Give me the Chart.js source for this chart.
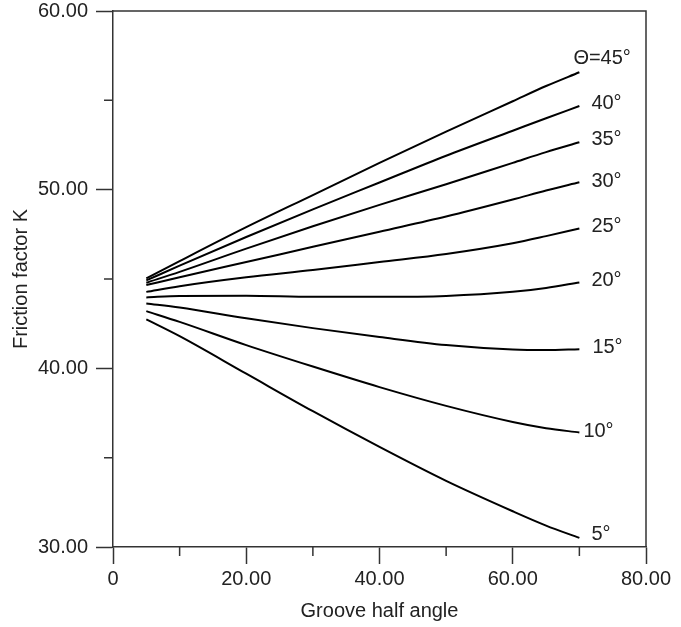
<!DOCTYPE html>
<html lang="en">
<head>
<meta charset="UTF-8">
<title>Friction factor K vs groove half angle</title>
<script src="https://cdn.jsdelivr.net/npm/chart.js"></script>
<style>
    body { margin: 0; background: #fff; }
    #wrap { position: relative; width: 681px; height: 627px; }
</style>
</head>
<body>
<div id="wrap"><canvas id="chart"></canvas></div>
<script>
// groove half angle (x) and friction factor K for each theta
const grooveAngles = [5, 10, 20, 30, 40, 50, 60, 65, 70];
const k45 = [45.03, 46.0, 47.9, 49.7, 51.5, 53.25, 54.95, 55.8, 56.57];
const k40 = [44.92, 45.75, 47.35, 48.9, 50.4, 51.9, 53.3, 54.0, 54.68];
const k35 = [44.79, 45.4, 46.7, 47.95, 49.15, 50.3, 51.5, 52.1, 52.65];
const k30 = [44.66, 45.1, 45.95, 46.8, 47.65, 48.5, 49.45, 49.95, 50.41];
const k25 = [44.28, 44.6, 45.1, 45.5, 45.95, 46.4, 47.0, 47.4, 47.83];
const k20 = [43.97, 44.05, 44.06, 44.0, 44.0, 44.05, 44.28, 44.5, 44.81];
const k15 = [43.63, 43.4, 42.8, 42.25, 41.75, 41.3, 41.05, 41.02, 41.07];
const k10 = [43.2, 42.6, 41.3, 40.1, 38.95, 37.9, 37.0, 36.65, 36.41];
const k5  = [42.74, 41.8, 39.7, 37.6, 35.6, 33.7, 32.0, 31.2, 30.51];
const seriesNames = ['\u0398=45\u00b0', '40\u00b0', '35\u00b0', '30\u00b0', '25\u00b0', '20\u00b0', '15\u00b0', '10\u00b0', '5\u00b0'];
const seriesValues = [k45, k40, k35, k30, k25, k20, k15, k10, k5];
const xMinorTicks = [10, 30, 50, 70];
const yMinorTicks = [35, 45, 55];

const FONT = '"Liberation Sans", Arial, sans-serif';
const INK = '#222';
const AXIS = '#333';

// label offsets from the end of each curve (px)
const labelOffsets = [[-6, -14], [12, -3], [12, -3], [12, -1], [12, -2], [12, -2], [13, -2], [4, -1], [12, -3]];

const curveLabels = {
    id: 'curveLabels',
    afterDatasetsDraw(chart) {
        const ctx = chart.ctx;
        ctx.save();
        ctx.font = '20px ' + FONT;
        ctx.fillStyle = INK;
        ctx.textAlign = 'left';
        ctx.textBaseline = 'middle';
        chart.data.datasets.forEach((ds, i) => {
            const pts = chart.getDatasetMeta(i).data;
            const last = pts[pts.length - 1];
            ctx.fillText(ds.label, last.x + labelOffsets[i][0], last.y + labelOffsets[i][1]);
        });
        ctx.restore();
    }
};

const frameAndMinor = {
    id: 'frameAndMinor',
    afterDraw(chart) {
        const ctx = chart.ctx;
        const a = chart.chartArea;
        const xs = chart.scales.x, ys = chart.scales.y;
        ctx.save();
        ctx.strokeStyle = AXIS;
        ctx.lineWidth = 1.5;
        ctx.beginPath();
        ctx.moveTo(a.left, a.top);
        ctx.lineTo(a.right, a.top);
        ctx.lineTo(a.right, a.bottom);
        xMinorTicks.forEach(v => {
            const px = xs.getPixelForValue(v);
            ctx.moveTo(px, a.bottom);
            ctx.lineTo(px, a.bottom + 9);
        });
        yMinorTicks.forEach(v => {
            const py = ys.getPixelForValue(v);
            ctx.moveTo(a.left, py);
            ctx.lineTo(a.left - 9, py);
        });
        ctx.stroke();
        ctx.restore();
    }
};

new Chart(document.getElementById('chart'), {
    type: 'line',
    data: {
        labels: grooveAngles,
        datasets: seriesValues.map((vals, i) => ({
            label: seriesNames[i],
            data: grooveAngles.map((x, j) => ({ x: x, y: vals[j] })),
            borderColor: '#000',
            borderWidth: 2,
            pointRadius: 0,
            fill: false,
            cubicInterpolationMode: 'monotone'
        }))
    },
    options: {
        responsive: true,
        maintainAspectRatio: false,
        animation: false,
        layout: { padding: { top: 0, right: 35, bottom: 0, left: 0 } },
        plugins: { legend: { display: false }, tooltip: { enabled: false } },
        scales: {
            x: {
                type: 'linear',
                min: 0, max: 80,
                afterFit: s => { s.height = 80; },
                grid: {
                    drawOnChartArea: false,
                    tickLength: 17,
                    tickWidth: 1.5,
                    tickColor: c => (c.tick && c.tick.value % 20 === 0) ? AXIS : 'rgba(0,0,0,0)'
                },
                border: { color: AXIS, width: 1.5 },
                ticks: {
                    stepSize: 10,
                    autoSkip: false,
                    maxRotation: 0,
                    padding: 3,
                    color: INK,
                    font: { family: FONT, size: 20 },
                    callback: v => v % 20 !== 0 ? '' : (v === 0 ? '0' : v.toFixed(2))
                },
                title: {
                    display: true,
                    text: 'Groove half angle',
                    color: INK,
                    font: { family: FONT, size: 20 },
                    padding: { top: 0, bottom: 4 }
                }
            },
            y: {
                min: 30, max: 60,
                afterFit: s => { s.width = 113; s.paddingTop = 11; s.paddingBottom = 0; },
                grid: {
                    drawOnChartArea: false,
                    tickLength: 17,
                    tickWidth: 1.5,
                    tickColor: c => (c.tick && c.tick.value % 10 === 0) ? AXIS : 'rgba(0,0,0,0)'
                },
                border: { color: AXIS, width: 1.5 },
                ticks: {
                    stepSize: 5,
                    autoSkip: false,
                    padding: 8,
                    color: INK,
                    font: { family: FONT, size: 20 },
                    callback: v => v % 10 !== 0 ? '' : v.toFixed(2)
                },
                title: {
                    display: true,
                    text: 'Friction factor K',
                    color: INK,
                    font: { family: FONT, size: 20 },
                    padding: { top: 9, bottom: 0 }
                }
            }
        }
    },
    plugins: [curveLabels, frameAndMinor]
});
</script>
</body>
</html>
